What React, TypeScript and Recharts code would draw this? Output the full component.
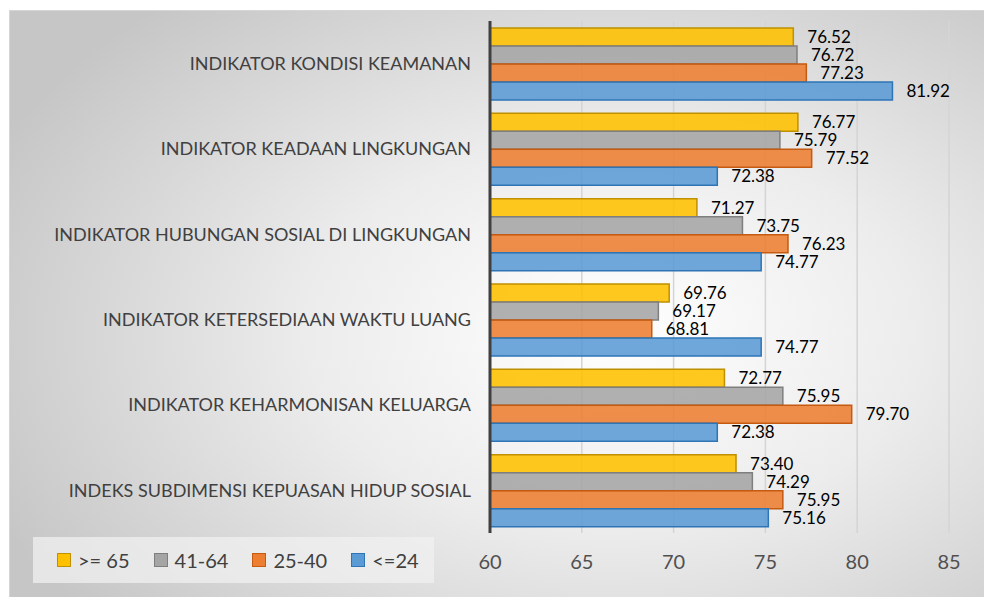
import React from "react";
import {
  Bar,
  BarChart,
  CartesianGrid,
  LabelList,
  XAxis,
  YAxis,
} from "recharts";

const categories = [
  "INDIKATOR KONDISI KEAMANAN",
  "INDIKATOR KEADAAN LINGKUNGAN",
  "INDIKATOR HUBUNGAN SOSIAL DI LINGKUNGAN",
  "INDIKATOR KETERSEDIAAN WAKTU LUANG",
  "INDIKATOR KEHARMONISAN KELUARGA",
  "INDEKS SUBDIMENSI KEPUASAN HIDUP SOSIAL",
];

const age65plus = [76.52, 76.77, 71.27, 69.76, 72.77, 73.4];
const age41to64 = [76.72, 75.79, 73.75, 69.17, 75.95, 74.29];
const age25to40 = [77.23, 77.52, 76.23, 68.81, 79.7, 75.95];
const age24minus = [81.92, 72.38, 74.77, 74.77, 72.38, 75.16];

const xTicks = [60, 65, 70, 75, 80, 85];

const series = [
  { key: "a65", name: ">= 65", fill: "#FFC000", stroke: "#BF9000" },
  { key: "a41", name: "41-64", fill: "#A5A5A5", stroke: "#7F7F7F" },
  { key: "a25", name: "25-40", fill: "#ED7D31", stroke: "#C55A11" },
  { key: "a24", name: "<=24", fill: "#5B9BD5", stroke: "#2E75B6" },
];

const data = categories.map((name, i) => ({
  name,
  a65: age65plus[i],
  a41: age41to64[i],
  a25: age25to40[i],
  a24: age24minus[i],
}));

const FONT = "Lato, 'Open Sans', sans-serif";

function LegendBox() {
  return (
    <div
      style={{
        position: "absolute",
        left: 23,
        top: 526,
        width: 401,
        height: 46,
        display: "flex",
        alignItems: "center",
        paddingLeft: 24,
        boxSizing: "border-box",
        background: "rgba(240,240,240,0.75)",
        fontFamily: FONT,
        fontSize: 20,
        color: "#404040",
        whiteSpace: "nowrap",
      }}
    >
      {series.map((s) => (
        <div
          key={s.key}
          style={{ display: "flex", alignItems: "center", marginRight: 24 }}
        >
          <span
            style={{
              display: "inline-block",
              width: 12,
              height: 12,
              background: s.fill,
              border: `1.5px solid ${s.stroke}`,
              marginRight: 7,
            }}
          />
          <span>{s.name}</span>
        </div>
      ))}
    </div>
  );
}

export default function App() {
  return (
    <div
      style={{
        position: "absolute",
        left: 0,
        top: 0,
        width: 984,
        height: 597,
        background: "#ffffff",
        overflow: "hidden",
      }}
    >
      <div
        style={{
          position: "absolute",
          left: 9,
          top: 10,
          width: 975,
          height: 587,
          borderTop: "1px solid #d6d6d6",
          borderLeft: "1px solid #d6d6d6",
          boxSizing: "border-box",
          background:
            "radial-gradient(ellipse 70% 75% at 62% 55%, #ffffff 0%, #ececec 45%, #c6c6c6 100%)",
        }}
      >
        <BarChart
          width={975}
          height={587}
          layout="vertical"
          data={data}
          barGap={0}
          barSize={18}
          margin={{ top: 10, right: 36, bottom: 0, left: 0 }}
          style={{ fontFamily: FONT }}
        >
          <CartesianGrid
            horizontal={false}
            stroke="#d4d4d4"
            strokeWidth={1.5}
          />
          <XAxis
            type="number"
            domain={[60, 85]}
            ticks={xTicks}
            axisLine={false}
            tickLine={false}
            tickSize={0}
            tickMargin={22}
            height={65}
            tick={{ fill: "#505050", fontSize: 20 }}
          />
          <YAxis
            type="category"
            dataKey="name"
            width={480}
            axisLine={{ stroke: "#404040", strokeWidth: 3 }}
            tickLine={false}
            tickSize={0}
            tickMargin={19}
            tick={{ fill: "#404040", fontSize: 18 }}
          />
          {series.map((s) => (
            <Bar
              key={s.key}
              dataKey={s.key}
              name={s.name}
              fill={s.fill}
              fillOpacity={0.88}
              stroke={s.stroke}
              strokeWidth={1.5}
              isAnimationActive={false}
            >
              <LabelList
                dataKey={s.key}
                position="right"
                offset={14}
                fill="#000000"
                fontSize={17}
                formatter={(v: number) => v.toFixed(2)}
              />
            </Bar>
          ))}
        </BarChart>
        <LegendBox />
      </div>
    </div>
  );
}
